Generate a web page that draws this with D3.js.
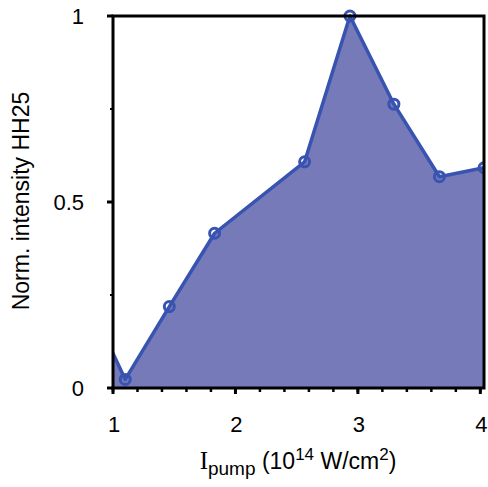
<!DOCTYPE html>
<html>
<head>
<meta charset="utf-8">
<script src="https://cdn.jsdelivr.net/npm/d3@7"></script>
<style>
  body { margin: 0; background: #fff; }
  text { font-family: "Liberation Sans", Arial, sans-serif; }
</style>
</head>
<body>
<div id="chart"></div>
<script>
// pump intensity (1e14 W/cm2) and normalized HH25 intensity
const intensity = [0.72, 1.10, 1.46, 1.83, 2.565, 2.935, 3.294, 3.666, 4.03];
const hh25 = [0.29, 0.023, 0.219, 0.416, 0.608, 1.0, 0.763, 0.568, 0.592];
const xTickValues = [1, 2, 3, 4];
const yTickValues = [0, 0.5, 1];
const yTickLabels = ["0", "0.5", "1"];

const width = 488, height = 487;
const mLeft = 113, mRight = 484, mTop = 16, mBottom = 388;

const x = d3.scaleLinear().domain([1, 4.03]).range([mLeft, mRight]);
const y = d3.scaleLinear().domain([0, 1]).range([mBottom, mTop]);

const svg = d3.select('#chart').append('svg')
  .attr('width', width)
  .attr('height', height);

svg.append('clipPath').attr('id', 'clip')
  .append('rect')
    .attr('x', mLeft).attr('y', mTop - 10)
    .attr('width', mRight - mLeft).attr('height', mBottom - mTop + 10);

const pts = intensity.map((v, i) => [v, hh25[i]]);
const plot = svg.append('g').attr('clip-path', 'url(#clip)');

plot.append('path')
  .datum(pts)
  .attr('fill', '#767ab8')
  .attr('d', d3.area()
    .x(d => x(d[0]))
    .y0(y(0))
    .y1(d => y(d[1])));

plot.append('path')
  .datum(pts)
  .attr('fill', 'none')
  .attr('stroke', '#3853b0')
  .attr('stroke-width', 3.5)
  .attr('stroke-linejoin', 'round')
  .attr('d', d3.line().x(d => x(d[0])).y(d => y(d[1])));

plot.selectAll('circle')
  .data(pts)
  .enter().append('circle')
    .attr('cx', d => x(d[0]))
    .attr('cy', d => y(d[1]))
    .attr('r', 5)
    .attr('fill', 'none')
    .attr('stroke', '#3853b0')
    .attr('stroke-width', 3);

// frame
svg.append('rect')
  .attr('x', mLeft).attr('y', mTop)
  .attr('width', mRight - mLeft).attr('height', mBottom - mTop)
  .attr('fill', 'none')
  .attr('stroke', '#000')
  .attr('stroke-width', 3);

// x axis
const xMinor = d3.range(1, 4.03, 0.2);
const xAxis = svg.append('g').attr('transform', `translate(0,${mBottom})`);
xAxis.selectAll('line.minor').data(xMinor).enter().append('line')
  .attr('x1', d => x(d)).attr('x2', d => x(d))
  .attr('y1', 0).attr('y2', 4)
  .attr('stroke', '#000').attr('stroke-width', 2.5);
xAxis.selectAll('line.major').data(xTickValues).enter().append('line')
  .attr('x1', d => x(d)).attr('x2', d => x(d))
  .attr('y1', 0).attr('y2', 6)
  .attr('stroke', '#000').attr('stroke-width', 3);
xAxis.selectAll('text').data(xTickValues).enter().append('text')
  .attr('x', d => x(d) + 1)
  .attr('y', 44)
  .attr('text-anchor', 'middle')
  .attr('font-size', 22)
  .text(d => d);

// y axis
const yMinor = [0.25, 0.75];
const yAxis = svg.append('g').attr('transform', `translate(${mLeft},0)`);
yAxis.selectAll('line.minor').data(yMinor).enter().append('line')
  .attr('x1', 0).attr('x2', -3)
  .attr('y1', d => y(d)).attr('y2', d => y(d))
  .attr('stroke', '#000').attr('stroke-width', 2);
yAxis.selectAll('line.major').data(yTickValues).enter().append('line')
  .attr('x1', 0).attr('x2', -6)
  .attr('y1', d => y(d)).attr('y2', d => y(d))
  .attr('stroke', '#000').attr('stroke-width', 3);
yAxis.selectAll('text').data(yTickValues).enter().append('text')
  .attr('x', -29)
  .attr('y', d => y(d) + 8)
  .attr('text-anchor', 'end')
  .attr('font-size', 22)
  .text((d, i) => yTickLabels[i]);

// axis titles
svg.append('text')
  .attr('transform', 'translate(29,201) rotate(-90)')
  .attr('text-anchor', 'middle')
  .attr('font-size', 23)
  .text('Norm. intensity HH25');

const xt = svg.append('text')
  .attr('x', 298).attr('y', 469)
  .attr('text-anchor', 'middle')
  .attr('font-size', 23);
xt.append('tspan').attr('font-family', '"Liberation Serif", "Times New Roman", serif').attr('font-size', 25).text('I');
xt.append('tspan').attr('dy', 6).attr('font-size', 19).text('pump');
xt.append('tspan').attr('dy', -6).text(' (10');
xt.append('tspan').attr('dy', -9).attr('font-size', 17).text('14');
xt.append('tspan').attr('dy', 9).text(' W/cm');
xt.append('tspan').attr('dy', -9).attr('font-size', 17).text('2');
xt.append('tspan').attr('dy', 9).text(')');
</script>
</body>
</html>
